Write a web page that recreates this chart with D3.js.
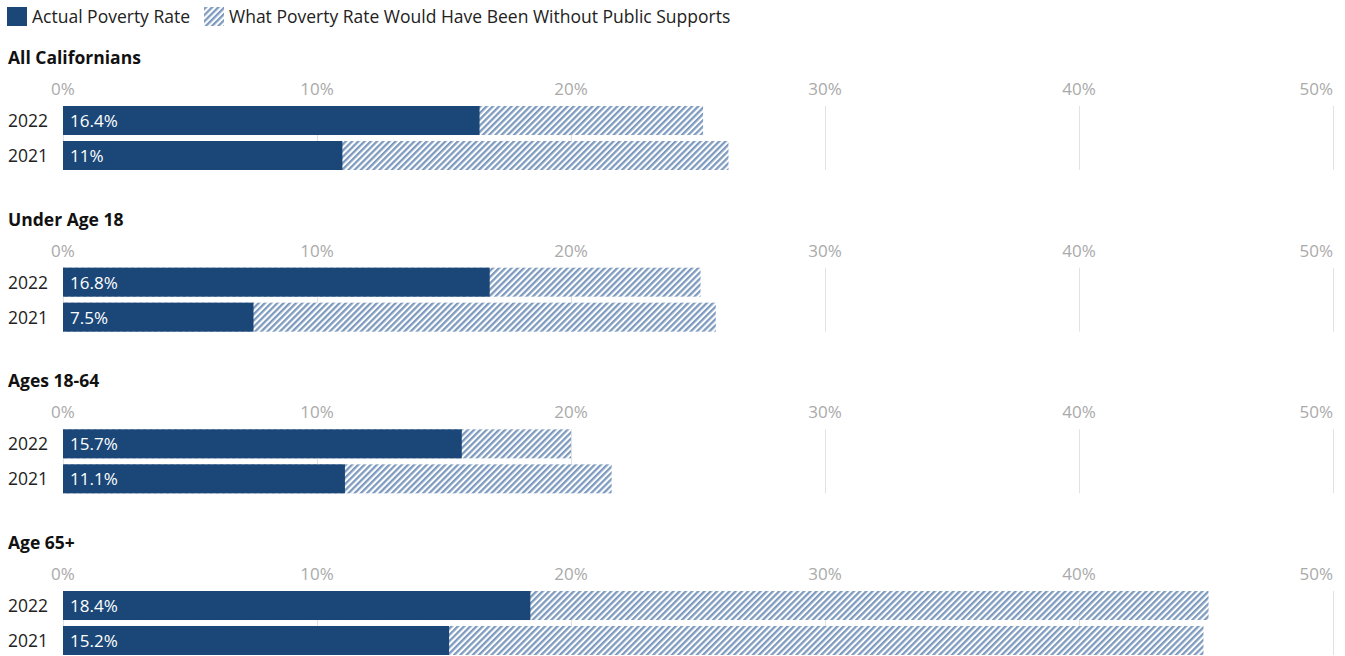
<!DOCTYPE html>
<html>
<head>
<meta charset="utf-8">
<script src="https://cdn.jsdelivr.net/npm/d3@7"></script>
<style>
  html, body { margin: 0; padding: 0; background: #fff; }
  svg { display: block; font-family: "Open Sans", "Noto Sans", sans-serif; }
</style>
</head>
<body>
<svg id="chart" width="1345" height="656"></svg>
<script>
// Poverty rates by age group, actual vs. without public supports
const groups = ["All Californians", "Under Age 18", "Ages 18-64", "Age 65+"];
const years = ["2022", "2021"];
const actualRate = [
  [16.4, 11],
  [16.8, 7.5],
  [15.7, 11.1],
  [18.4, 15.2]
];
const withoutSupportsRate = [
  [25.2, 26.2],
  [25.1, 25.7],
  [20.0, 21.6],
  [45.1, 44.9]
];
const tickValues = [0, 10, 20, 30, 40, 50];
const legendLabels = ["Actual Poverty Rate", "What Poverty Rate Would Have Been Without Public Supports"];

const dark = "#1b4778";
const stripe = "#7e9bbf";

const svg = d3.select("#chart");

// diagonal hatch for the "without supports" bars
const defs = svg.append("defs");
const pat = defs.append("pattern")
  .attr("id", "hatch")
  .attr("patternUnits", "userSpaceOnUse")
  .attr("width", 4.4)
  .attr("height", 10)
  .attr("patternTransform", "rotate(45)");
pat.append("rect").attr("width", 4.4).attr("height", 10).attr("fill", "#fff");
pat.append("rect").attr("width", 2.3).attr("height", 10).attr("fill", stripe);

const x = d3.scaleLinear().domain([0, 50]).range([63, 1333]);
const groupY = d3.scaleLinear().domain([0, groups.length - 1]).range([106, 591]);
const yearY = d3.scaleBand().domain(years).range([0, 64]).paddingInner(0.171);

// legend
const legend = svg.append("g");
const legendItems = [
  { label: legendLabels[0], fill: dark, x: 7 },
  { label: legendLabels[1], fill: "url(#hatch)", x: 204 }
];
legendItems.forEach(d => {
  legend.append("rect").attr("x", d.x).attr("y", 7).attr("width", 20).attr("height", 19).attr("fill", d.fill);
  legend.append("text").attr("x", d.x + 25).attr("y", 23)
    .attr("font-size", 17.5).attr("fill", "#222").text(d.label);
});

groups.forEach((name, gi) => {
  const top = groupY(gi);
  const g = svg.append("g").attr("transform", `translate(0,${top})`);

  g.append("text").attr("x", 8).attr("y", -42)
    .attr("font-size", 17.5).attr("font-weight", 700).attr("fill", "#111").text(name);

  // axis labels above each group
  g.selectAll(".tick-label").data(tickValues).join("text")
    .attr("x", d => x(d))
    .attr("y", -11)
    .attr("text-anchor", (d, i) => i === tickValues.length - 1 ? "end" : "middle")
    .attr("font-size", 17)
    .attr("fill", "#aaa")
    .text(d => d + "%");

  // grid lines
  g.selectAll(".grid").data(tickValues).join("line")
    .attr("x1", d => x(d) + 0.5).attr("x2", d => x(d) + 0.5)
    .attr("y1", 0).attr("y2", 64)
    .attr("stroke", "#e2e2e2").attr("stroke-width", 1);

  years.forEach((yr, yi) => {
    const by = yearY(yr);
    const bh = yearY.bandwidth();
    g.append("rect")
      .attr("x", x(0)).attr("y", by)
      .attr("width", x(withoutSupportsRate[gi][yi]) - x(0)).attr("height", bh)
      .attr("fill", "url(#hatch)");
    g.append("rect")
      .attr("x", x(0)).attr("y", by)
      .attr("width", x(actualRate[gi][yi]) - x(0)).attr("height", bh)
      .attr("fill", dark);
    g.append("text")
      .attr("x", x(0) + 7).attr("y", by + bh / 2 + 6.5)
      .attr("font-size", 17).attr("fill", "#fff")
      .text(actualRate[gi][yi] + "%");
    g.append("text")
      .attr("x", 48).attr("y", by + bh / 2 + 6.5)
      .attr("text-anchor", "end")
      .attr("font-size", 17.5).attr("fill", "#222")
      .text(yr);
  });
});
</script>
</body>
</html>
